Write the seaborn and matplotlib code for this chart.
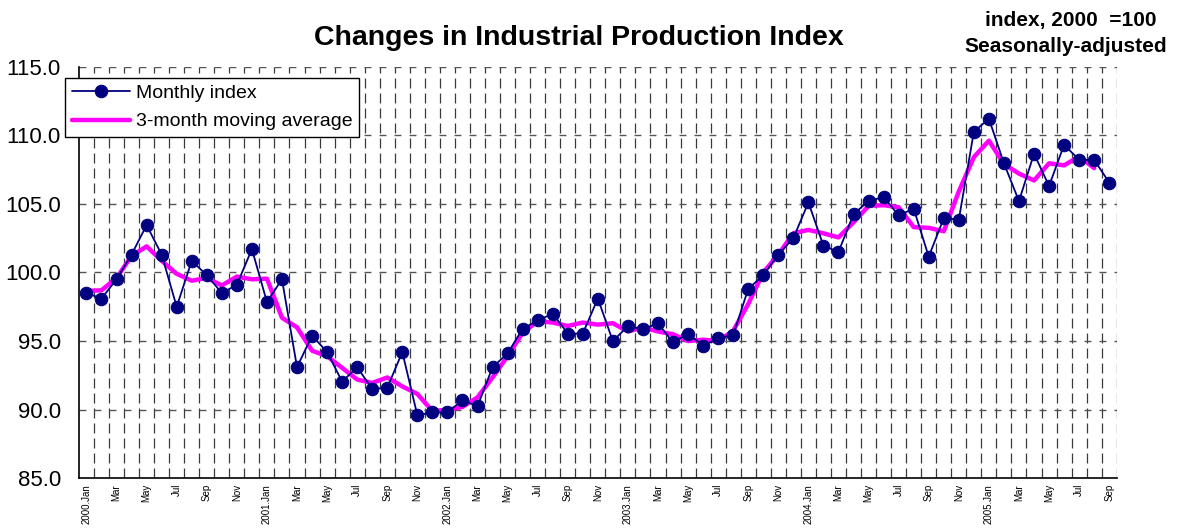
import numpy as np
import pandas as pd
import matplotlib
matplotlib.use("Agg")
import matplotlib.pyplot as plt
import seaborn as sns

# monthly data, 2000 Jan .. 2005 Sep
years = [2000, 2001, 2002, 2003, 2004, 2005]
month_names = ["Jan", "Feb", "Mar", "Apr", "May", "Jun",
               "Jul", "Aug", "Sep", "Oct", "Nov", "Dec"]

monthly_index = [
    98.5, 98.1, 99.5, 101.3, 103.45, 101.3, 97.5, 100.85, 99.8, 98.5, 99.1, 101.7,
    97.85, 99.5, 93.1, 95.4, 94.2, 92.05, 93.1, 91.5, 91.6, 94.2, 89.6, 89.8,
    89.8, 90.7, 90.25, 93.1, 94.1, 95.9, 96.5, 97.0, 95.55, 95.55, 98.1, 95.0,
    96.1, 95.85, 96.3, 94.9, 95.55, 94.65, 95.2, 95.45, 98.8, 99.8, 101.3, 102.5,
    105.1, 101.95, 101.5, 104.25, 105.2, 105.5, 104.15, 104.65, 101.15, 103.95, 103.85, 110.25,
    111.2, 107.95, 105.2, 108.65, 106.3, 109.3, 108.2, 108.2, 106.55,
]

moving_avg = [
    98.65, 98.7, 99.6, 101.2, 101.9, 100.85, 99.9, 99.4, 99.6, 99.05, 99.7, 99.5,
    99.55, 96.7, 96.0, 94.3, 93.9, 93.05, 92.2, 91.95, 92.35, 91.7, 91.15, 89.9,
    90.0, 90.2, 90.9, 92.35, 93.9, 95.6, 96.45, 96.35, 96.1, 96.35, 96.2, 96.3,
    95.7, 96.0, 95.7, 95.5, 95.0, 95.1, 95.0, 95.75, 97.7, 100.0, 101.3, 102.85,
    103.1, 102.85, 102.55, 103.65, 104.85, 104.9, 104.75, 103.3, 103.25, 103.0, 105.9, 108.4,
    109.6, 107.9, 107.2, 106.7, 107.95, 107.8, 108.45, 107.6, np.nan,
]

y_ticks = [85, 90, 95, 100, 105, 110, 115]

n = len(monthly_index)
labels = []
for k in range(n):
    y, m = years[k // 12], month_names[k % 12]
    labels.append(f"{y}.{m}" if m == "Jan" else m)

df = pd.DataFrame({"t": np.arange(n), "monthly": monthly_index, "ma": moving_avg})

sns.set_style("white")
plt.rcParams['font.family'] = ['Liberation Sans', 'DejaVu Sans']
plt.rcParams['lines.scale_dashes'] = False
plt.rcParams['text.color'] = 'black'
plt.rcParams['xtick.color'] = 'black'
plt.rcParams['ytick.color'] = 'black'

fig = plt.figure(figsize=(11.78, 5.28), dpi=100)
ax = fig.add_axes([0.067, 0.094, 0.881, 0.780])

# grid: dashed lines between months, and every 5 index points
for k in range(n):
    ax.axvline(k + 0.5, color="#3a3a3a", lw=0.9, ls=(0, (7.2, 3.6)), zorder=0)
for v in y_ticks[1:]:
    ax.axhline(v, color="#555555", lw=1.0, ls=(0, (5, 5.8)), zorder=0)

sns.lineplot(data=df, x="t", y="ma", ax=ax, color="#ff00ff", lw=3.2,
             label="3-month moving average", zorder=2)
sns.lineplot(data=df, x="t", y="monthly", ax=ax, color="#000080", lw=1.3,
             marker="o", markersize=9, markeredgecolor="#000080",
             label="Monthly index", zorder=3)

ax.set_xlim(-0.5, n - 0.5)
ax.set_ylim(85, 115)
ax.set_yticks(y_ticks)
ax.set_yticklabels([f"{v:.1f}" for v in y_ticks], fontsize=16)
ax.set_xticks(np.arange(0, n, 2))
ax.set_xticklabels(labels[::2], rotation=90, fontsize=7)
ax.tick_params(axis="x", length=0, pad=4)
ax.tick_params(axis="y", length=0, pad=13)
ax.set_xlabel("")
ax.set_ylabel("")

for side in ["top", "right"]:
    ax.spines[side].set_visible(False)
ax.spines["left"].set_color("black")
ax.spines["bottom"].set_color("black")
ax.spines["left"].set_linewidth(1.2)
ax.spines["bottom"].set_linewidth(1.2)

handles, texts = ax.get_legend_handles_labels()
leg = ax.legend(handles[::-1], texts[::-1], loc="upper left",
                bbox_to_anchor=(0.055, 0.853), bbox_transform=fig.transFigure,
                fontsize=14, frameon=True, fancybox=False, edgecolor="black",
                framealpha=1, handlelength=3.0, borderpad=0.35, labelspacing=0.55,
                handletextpad=0.3, borderaxespad=0)
leg.get_frame().set_linewidth(1.0)

fig.text(0.491, 0.928, "Changes in Industrial Production Index", ha="center",
         va="center", fontsize=20.5, fontweight="bold")
fig.text(0.982, 0.962, "index, 2000  =100", ha="right", va="center",
         fontsize=15, fontweight="bold")
fig.text(0.991, 0.911, "Seasonally-adjusted", ha="right", va="center",
         fontsize=15, fontweight="bold")

fig.savefig("out.png", dpi=100)
plt.close(fig)
